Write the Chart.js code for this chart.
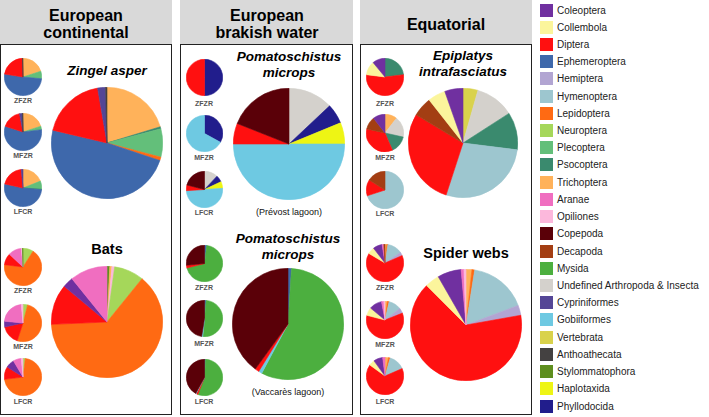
<!DOCTYPE html>
<html>
<head>
<meta charset="utf-8">
<script src="https://cdn.jsdelivr.net/npm/chart.js@4.4.1/dist/chart.umd.min.js"></script>
<style>
  html, body { margin:0; padding:0; background:#fff; }
  body { width:709px; height:417px; position:relative; overflow:hidden; font-family:"Liberation Sans", Arial, sans-serif; }
  .hdr { position:absolute; background:#d9d9d9; }
  .box { position:absolute; border:1.5px solid #222; box-sizing:border-box; }
  .t { position:absolute; transform:translate(-50%,-50%); white-space:nowrap; color:#000; }
  .h { font-weight:bold; font-size:16px; line-height:17px; text-align:center; }
  .pt { font-weight:bold; font-style:italic; font-size:13.5px; line-height:16px; text-align:center; }
  .sl { font-size:7px; color:#555; font-weight:bold; }
  .cap { font-size:9px; color:#111; }
  .lg { position:absolute; font-size:10px; color:#222; white-space:nowrap; }
  .sw { position:absolute; width:13px; height:13px; }
  canvas { position:absolute; }
</style>
</head>
<body>
<script>
// ---------- DATA ----------
const categories = ['Coleoptera','Collembola','Diptera','Ephemeroptera','Hemiptera','Hymenoptera','Lepidoptera','Neuroptera','Plecoptera','Psocoptera','Trichoptera','Aranae','Opiliones','Copepoda','Decapoda','Mysida','Undefined Arthropoda & Insecta','Cypriniformes','Gobiiformes','Vertebrata','Anthoathecata','Stylommatophora','Haplotaxida','Phyllodocida'];
const panelTitles = ['European\ncontinental','European\nbrakish water','Equatorial'];
const sampleLabels = ['ZFZR','MFZR','LFCR'];

// Slices listed clockwise from 12 o'clock: [category, % of diet]
const zingelBig  = [['Trichoptera',20.3],['Psocoptera',0.6],['Plecoptera',8.2],['Lepidoptera',1.0],['Ephemeroptera',48.6],['Diptera',18.6],['Cypriniformes',2.3],['Anthoathecata',0.4]];
const zingelZFZR = [['Trichoptera',20],['Plecoptera',6.5],['Ephemeroptera',51],['Diptera',22],['Anthoathecata',0.5]];
const zingelMFZR = [['Trichoptera',20],['Plecoptera',3],['Ephemeroptera',57],['Diptera',17],['Cypriniformes',2.5],['Anthoathecata',0.5]];
const zingelLFCR = [['Trichoptera',19],['Plecoptera',7],['Psocoptera',0.5],['Ephemeroptera',52],['Diptera',20],['Cypriniformes',1.5]];

const batsBig  = [['Stylommatophora',0.8],['Trichoptera',0.6],['Opiliones',0.8],['Neuroptera',8.6],['Lepidoptera',63.3],['Diptera',11.7],['Coleoptera',3.1],['Aranae',10.8]];
const batsZFZR = [['Neuroptera',9],['Lepidoptera',68],['Diptera',10],['Aranae',11.5],['Opiliones',1],['Stylommatophora',0.5]];
const batsMFZR = [['Neuroptera',4],['Lepidoptera',51],['Diptera',16.5],['Coleoptera',5],['Aranae',22],['Opiliones',1.5]];
const batsLFCR = [['Neuroptera',2],['Lepidoptera',71],['Diptera',11],['Coleoptera',7.5],['Aranae',7],['Opiliones',1.5]];

const prevostBig  = [['Undefined Arthropoda & Insecta',13],['Phyllodocida',5.8],['Haplotaxida',6.2],['Gobiiformes',50],['Diptera',6],['Copepoda',19]];
const prevostZFZR = [['Phyllodocida',50],['Diptera',50]];
const prevostMFZR = [['Phyllodocida',33],['Gobiiformes',67]];
const prevostLFCR = [['Undefined Arthropoda & Insecta',12],['Phyllodocida',6],['Haplotaxida',6],['Gobiiformes',50],['Diptera',5],['Copepoda',21]];

const vaccaresBig  = [['Ephemeroptera',1],['Mysida',56.8],['Gobiiformes',1],['Diptera',1.2],['Copepoda',40]];
const vaccaresZFZR = [['Ephemeroptera',2],['Mysida',69],['Diptera',2.5],['Copepoda',26.5]];
const vaccaresMFZR = [['Ephemeroptera',1.5],['Mysida',50],['Gobiiformes',1],['Copepoda',47.5]];
const vaccaresLFCR = [['Ephemeroptera',1],['Mysida',55],['Diptera',1.5],['Gobiiformes',0.5],['Copepoda',42]];

const epiplatysBig  = [['Vertebrata',4.4],['Undefined Arthropoda & Insecta',11.5],['Psocoptera',11.1],['Hymenoptera',28],['Diptera',28.6],['Decapoda',5.8],['Collembola',5.2],['Coleoptera',5.4]];
const epiplatysZFZR = [['Psocoptera',23],['Diptera',54],['Collembola',12],['Coleoptera',11]];
const epiplatysMFZR = [['Trichoptera',10.5],['Undefined Arthropoda & Insecta',18],['Psocoptera',15],['Diptera',35],['Decapoda',11],['Coleoptera',10.5]];
const epiplatysLFCR = [['Hymenoptera',70],['Diptera',14],['Decapoda',16]];

const spiderBig  = [['Trichoptera',1.7],['Lepidoptera',0.8],['Hymenoptera',16.8],['Hemiptera',2.9],['Diptera',65.3],['Collembola',4.2],['Coleoptera',6.9],['Aranae',0.8],['Opiliones',0.6]];
const spiderZFZR = [['Trichoptera',1.5],['Lepidoptera',1],['Hymenoptera',13],['Hemiptera',3],['Diptera',65],['Collembola',6],['Coleoptera',8],['Aranae',1.5],['Decapoda',1]];
const spiderMFZR = [['Trichoptera',2],['Lepidoptera',1.5],['Hymenoptera',11],['Hemiptera',4.5],['Diptera',60],['Collembola',7],['Coleoptera',11],['Aranae',2],['Opiliones',1]];
const spiderLFCR = [['Trichoptera',3],['Lepidoptera',1.5],['Hymenoptera',14],['Diptera',66.5],['Collembola',5],['Coleoptera',8],['Aranae',2]];

// ---------- STYLE ----------
const palette = {
  'Coleoptera':'#7030a0','Collembola':'#fbf59c','Diptera':'#ff1010','Ephemeroptera':'#3e68ab',
  'Hemiptera':'#b2a5d2','Hymenoptera':'#9dc6cf','Lepidoptera':'#ff6a13','Neuroptera':'#a5d75a',
  'Plecoptera':'#63bf7a','Psocoptera':'#3a8a6e','Trichoptera':'#ffb25a','Aranae':'#f06ec0',
  'Opiliones':'#fcb8dc','Copepoda':'#5a0008','Decapoda':'#a33e13','Mysida':'#4caf3f',
  'Undefined Arthropoda & Insecta':'#d4d1cc','Cypriniformes':'#544696','Gobiiformes':'#6ec9e2',
  'Vertebrata':'#d9d24c','Anthoathecata':'#444141','Stylommatophora':'#5e8e1e','Haplotaxida':'#eef514',
  'Phyllodocida':'#211d8c'
};

// ---------- LAYOUT ----------
function el(cls, x, y, html, extra) {
  const d = document.createElement('div');
  d.className = cls;
  d.style.left = x + 'px'; d.style.top = y + 'px';
  if (html !== undefined) d.innerHTML = html;
  if (extra) Object.assign(d.style, extra);
  document.body.appendChild(d);
  return d;
}
const panels = [{x0:0, x1:172, cx:86}, {x0:180, x1:353, cx:267}, {x0:360, x1:532, cx:446}];
panels.forEach((p, i) => {
  el('hdr', p.x0, 0, '', {width:(p.x1-p.x0)+'px', height:'45px'});
  el('box', p.x0, 44, '', {width:(p.x1-p.x0)+'px', height:'371px'});
  el('t h', p.cx, 24, panelTitles[i].replace('\n','<br>'));
});

function drawPie(pairs, cx, cy, r) {
  const c = document.createElement('canvas');
  const s = Math.round(2*r);
  c.width = s; c.height = s;
  c.style.width = s+'px'; c.style.height = s+'px';
  c.style.left = (cx - s/2) + 'px'; c.style.top = (cy - s/2) + 'px';
  document.body.appendChild(c);
  const cols = pairs.map(p => palette[p[0]]);
  new Chart(c, {
    type:'pie',
    data:{ labels: pairs.map(p=>p[0]), datasets:[{ data: pairs.map(p=>p[1]), backgroundColor: cols, borderColor: cols, borderWidth: 0.6 }]},
    options:{ responsive:false, animation:false, events:[], layout:{padding:0},
      plugins:{ legend:{display:false}, tooltip:{enabled:false} } }
  });
}

const rows = [
  // panel 1
  {small:[zingelZFZR,zingelMFZR,zingelLFCR], sx:23, sy:[77,132,188], ly:[100,155,211], sr:19, big:zingelBig, bx:107, by:143, br:56, title:'Zingel asper', ty:71},
  {small:[batsZFZR,batsMFZR,batsLFCR], sx:23, sy:[267,323,377], ly:[290,346,401], sr:19, big:batsBig, bx:107, by:322, br:56, title:'Bats', ty:249, normal:true},
  // panel 2
  {small:[prevostZFZR,prevostMFZR,prevostLFCR], sx:204, sy:[77,133,189], ly:[103,157,212], sr:18.5, big:prevostBig, bx:289, by:144, br:56, title:'Pomatoschistus<br>microps', ty:65, cap:'(Prévost lagoon)', cy:212},
  {small:[vaccaresZFZR,vaccaresMFZR,vaccaresLFCR], sx:204, sy:[263,318,377], ly:[287,343,401], sr:18.5, big:vaccaresBig, bx:288, by:324, br:56, title:'Pomatoschistus<br>microps', ty:247, cap:'(Vaccarès lagoon)', cy:392},
  // panel 3
  {small:[epiplatysZFZR,epiplatysMFZR,epiplatysLFCR], sx:385, sy:[77,133,190], ly:[103,157,213], sr:19, big:epiplatysBig, bx:463, by:143, br:55, title:'Epiplatys<br>intrafasciatus', ty:64},
  {small:[spiderZFZR,spiderMFZR,spiderLFCR], sx:385, sy:[263,320,376], ly:[287,344,401], sr:19, big:spiderBig, bx:466, by:325, br:56, title:'Spider webs', ty:253, normal:true}
];
rows.forEach(r => {
  r.small.forEach((d, k) => {
    drawPie(d, r.sx, r.sy[k], r.sr);
    el('t sl', r.sx, r.ly[k], sampleLabels[k]);
  });
  drawPie(r.big, r.bx, r.by, r.br);
  el('t pt', r.bx, r.ty, r.title, r.normal ? {fontStyle:'normal', fontSize:'14.5px'} : null);
  if (r.cap) el('t cap', r.bx, r.cy, r.cap);
});

// Legend
categories.forEach((name, i) => {
  const y = 10 + i * 17.22;
  el('sw', 540, y - 6.5, '', {background: palette[name]});
  el('lg', 557, y - 6.5, name, {lineHeight:'13px'});
});
</script>
</body>
</html>
